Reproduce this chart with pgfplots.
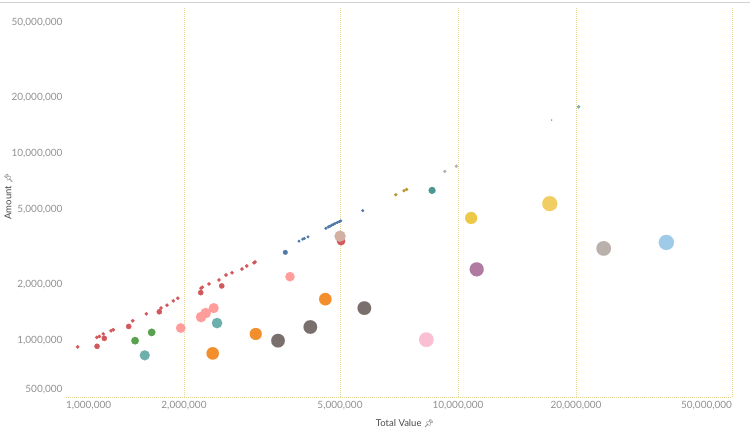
\documentclass[border=0pt]{standalone}
\usepackage{pgfplots}
\pgfplotsset{compat=1.18}
\usepackage{fontspec}
\setmainfont{Lato}
\newfontfamily\emojifont{Noto Emoji}
\definecolor{cRed}{HTML}{D3585B}
\definecolor{cBlue}{HTML}{4E79A7}
\definecolor{cOlive}{HTML}{B6992D}
\definecolor{cTealG}{HTML}{499894}
\definecolor{cLGray}{HTML}{BAB0AC}
\definecolor{cGreen}{HTML}{59A14F}
\definecolor{cTeal}{HTML}{6DAFAA}
\definecolor{cPink}{HTML}{FF9D9A}
\definecolor{cOrange}{HTML}{F28E2B}
\definecolor{cDGray}{HTML}{79706E}
\definecolor{cLPink}{HTML}{FABFD2}
\definecolor{cYellow}{HTML}{EDC948}
\definecolor{cYellow2}{HTML}{F1CE63}
\definecolor{cPurple}{HTML}{B07AA1}
\definecolor{cLBlue}{HTML}{A0CBE8}
\definecolor{cTan}{HTML}{D2B1A3}
\definecolor{cBGray}{HTML}{86ACAA}
\definecolor{cGrid}{HTML}{E2D78E}
\definecolor{cTick}{HTML}{909090}
\definecolor{cTitle}{HTML}{4A4A4A}
\newcommand{\pin}{{\emojifont\fontsize{8}{9}\selectfont\textcolor{cTitle}{📌}}}
\pgfplotsset{dot/.style 2 args={only marks, mark=*, mark size=#2, color=#1, mark options={solid, draw=#1, fill=#1, line width=0.1pt}}}
\begin{document}
\begin{tikzpicture}
\begin{axis}[
  scale only axis, width=666pt, height=389pt,
  xmode=log, ymode=log,
  xmin=1e6, xmax=5e7, ymin=5e5, ymax=6e7,
  axis x line*=bottom, axis y line*=left,
  x axis line style={draw=cGrid, line width=0.9pt, dash pattern=on 1pt off 1pt, -},
  y axis line style={draw=none, -},
  major tick length=0pt, minor tick length=0pt,
  xtick={2e6,5e6,1e7,2e7,5e7},
  xticklabels={{2,000,000},{5,000,000},{10,000,000},{20,000,000},{\makebox[0pt][r]{50,000,000}}},
  extra x ticks={1e6},
  extra x tick labels={{\makebox[0pt][l]{1,000,000}}},
  extra x tick style={grid=none},
  xmajorgrids,
  major grid style={draw=cGrid, line width=0.9pt, dash pattern=on 1pt off 1pt},
  ytick={1e6,2e6,5e6,1e7,2e7,5e7},
  yticklabels={{1,000,000},{2,000,000},{5,000,000},{10,000,000},{20,000,000},{50,000,000}},
  extra y ticks={5e5},
  extra y tick labels={{\makebox[0pt][r]{500,000}}},
  extra y tick style={yticklabel style={anchor=south east}},
  tick label style={font=\fontsize{10}{11}\selectfont, text=cTick},
  xticklabel style={yshift=-1pt},
  xlabel={Total Value \pin},
  ylabel={Amount \pin},
  label style={font=\fontsize{9.5}{11}\selectfont, text=cTitle},
  xlabel style={yshift=-3pt, xshift=6pt},
  ylabel style={at={(rel axis cs:0,0.5)}, anchor=north, yshift=65pt, xshift=6pt},
  clip=false,
]
% red dots small
\addplot[dot={cRed}{1.8}] coordinates {
(1.071e6,0.926e6) (1.198e6,1.041e6) (1.216e6,1.054e6) (1.245e6,1.086e6)
(1.303e6,1.130e6) (1.320e6,1.144e6) (1.480e6,1.278e6) (1.603e6,1.392e6)
(1.747e6,1.493e6) (1.810e6,1.548e6) (1.878e6,1.632e6) (1.928e6,1.687e6)
(2.210e6,1.907e6) (2.227e6,1.930e6) (2.316e6,2.010e6) (2.456e6,2.111e6)
(2.559e6,2.244e6) (2.651e6,2.308e6) (2.812e6,2.415e6) (2.891e6,2.506e6)
(3.017e6,2.609e6) (3.035e6,2.632e6)
};
% red dots bigger
\addplot[dot={cRed}{2.7}] coordinates {
(1.200e6,0.933e6) (1.252e6,1.029e6) (1.445e6,1.191e6) (1.730e6,1.427e6)
(2.206e6,1.807e6) (2.496e6,1.961e6)
};
\addplot[dot={cRed}{4.2}] coordinates {(5.030e6,3.404e6)};
% blue dots
\addplot[dot={cBlue}{2.4}] coordinates {(3.626e6,2.964e6)};
\addplot[dot={cBlue}{1.5}] coordinates {
(3.929e6,3.404e6) (4.016e6,3.488e6) (4.054e6,3.518e6) (4.143e6,3.588e6)
(4.604e6,3.990e6) (4.667e6,4.055e6) (4.714e6,4.090e6) (4.761e6,4.140e6)
(4.806e6,4.176e6) (4.854e6,4.228e6) (4.920e6,4.280e6) (4.980e6,4.332e6)
(5.022e6,4.364e6) (5.713e6,4.958e6)
};
% olive
\addplot[dot={cOlive}{1.6}] coordinates {(6.936e6,6.031e6) (7.282e6,6.333e6) (7.398e6,6.435e6)};
% teal green
\addplot[dot={cTealG}{3.5}] coordinates {(8.586e6,6.356e6)};
% light gray small
\addplot[dot={cLGray}{1.7}] coordinates {(9.25e6,8.024e6) (9.90e6,8.559e6)};
\addplot[dot={cDGray}{0.5}] coordinates {(17.34e6,15.11e6)};
\addplot[dot={cBGray}{1.8}] coordinates {(20.30e6,17.78e6)};
% circles
\addplot[dot={cGreen}{3.8}] coordinates {(1.500e6,1.000e6)};
\addplot[dot={cGreen}{3.8}] coordinates {(1.654e6,1.107e6)};
\addplot[dot={cTeal}{5}] coordinates {(1.588e6,0.835e6)};
\addplot[dot={cPink}{4.8}] coordinates {(1.962e6,1.168e6)};
\addplot[dot={cPink}{5.2}] coordinates {(2.210e6,1.337e6)};
\addplot[dot={cPink}{5.2}] coordinates {(2.271e6,1.404e6)};
\addplot[dot={cPink}{5}] coordinates {(2.381e6,1.493e6)};
\addplot[dot={cTeal}{5.2}] coordinates {(2.428e6,1.242e6)};
\addplot[dot={cOrange}{6.2}] coordinates {(2.367e6,0.855e6)};
\addplot[dot={cOrange}{6}] coordinates {(3.048e6,1.086e6)};
\addplot[dot={cDGray}{6.8}] coordinates {(3.474e6,1.000e6)};
\addplot[dot={cPink}{4.7}] coordinates {(3.727e6,2.198e6)};
\addplot[dot={cDGray}{6.8}] coordinates {(4.200e6,1.183e6)};
\addplot[dot={cOrange}{6.2}] coordinates {(4.586e6,1.667e6)};
\addplot[dot={cTan}{5.6}] coordinates {(5.000e6,3.618e6)};
\addplot[dot={cDGray}{6.8}] coordinates {(5.768e6,1.493e6)};
\addplot[dot={cLPink}{7.3}] coordinates {(8.302e6,1.012e6)};
\addplot[dot={cYellow}{6}] coordinates {(10.80e6,4.527e6)};
\addplot[dot={cPurple}{7}] coordinates {(11.16e6,2.406e6)};
\addplot[dot={cYellow2}{7.5}] coordinates {(17.14e6,5.40e6)};
\addplot[dot={cLGray}{7.3}] coordinates {(23.53e6,3.112e6)};
\addplot[dot={cLBlue}{7.6}] coordinates {(34.0e6,3.350e6)};
\coordinate (sw) at (rel axis cs:0,0);
\coordinate (ne) at (rel axis cs:1,1);
\end{axis}
\draw[color=black!18, line width=1pt] ([xshift=-66pt,yshift=5pt]sw |- ne) -- ([xshift=18pt,yshift=5pt]ne);
\pgfresetboundingbox
\path ([xshift=-66pt,yshift=-43pt]sw) rectangle ([xshift=18pt,yshift=8pt]ne);
\end{tikzpicture}
\end{document}
